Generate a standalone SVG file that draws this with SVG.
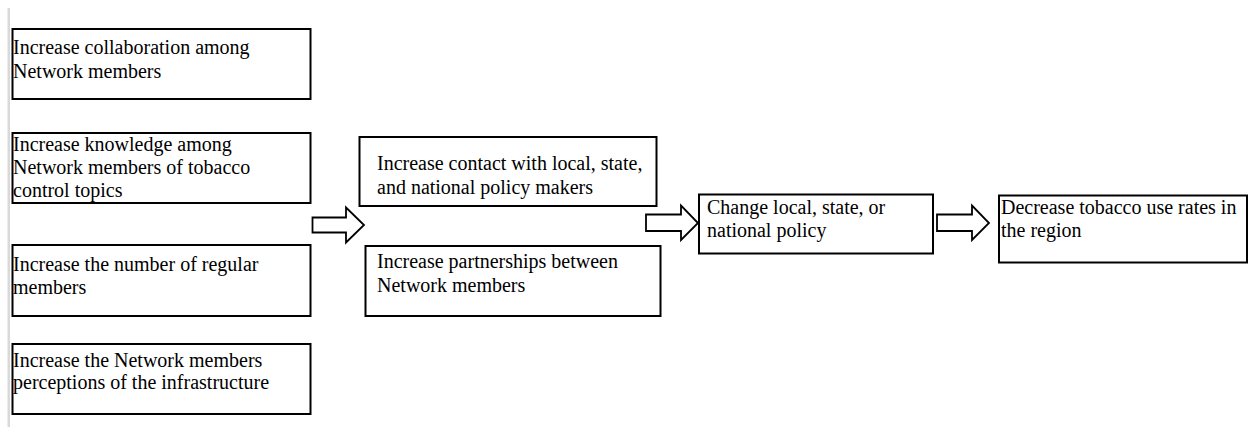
<svg xmlns="http://www.w3.org/2000/svg" width="1250" height="427" viewBox="0 0 1250 427">
<style>
.box{fill:#fff;stroke:#000;stroke-width:2}
.arr{fill:#fff;stroke:#000;stroke-width:1.8;stroke-linejoin:miter}
text{font-family:"Liberation Serif","Times New Roman",serif;font-size:20px;fill:#000}
</style>
<rect x="0" y="0" width="1250" height="427" fill="#fff"/>
<rect x="7.5" y="8" width="2.5" height="419" fill="#d9d9d9"/>
<g id="n1"><rect class="box" x="12.5" y="29" width="298" height="70"/>
<text x="13" y="54">Increase collaboration among</text><text x="13" y="78">Network members</text></g>
<g id="n2"><rect class="box" x="12.5" y="133" width="298" height="70"/>
<text x="13" y="150.5">Increase knowledge among</text><text x="13" y="173.5">Network members of tobacco</text><text x="13" y="196.5">control topics</text></g>
<g id="n3"><rect class="box" x="12.5" y="245" width="298" height="71"/>
<text x="13" y="271">Increase the number of regular</text><text x="13" y="294">members</text></g>
<g id="n4"><rect class="box" x="12.5" y="344" width="298" height="70"/>
<text x="13" y="366.5">Increase the Network members</text><text x="13" y="389">perceptions of the infrastructure</text></g>
<g id="n5"><rect class="box" x="359.5" y="137" width="297" height="69"/>
<text x="377" y="170">Increase contact with local, state,</text><text x="377" y="194">and national policy makers</text></g>
<g id="n6"><rect class="box" x="365.5" y="246" width="295" height="70"/>
<text x="377" y="268">Increase partnerships between</text><text x="377" y="292">Network members</text></g>
<g id="n7"><rect class="box" x="699" y="194.5" width="234" height="59"/>
<text x="707" y="214">Change local, state, or</text><text x="707" y="237">national policy</text></g>
<g id="n8"><rect class="box" x="999" y="195.5" width="248" height="67"/>
<text x="1001" y="214">Decrease tobacco use rates in</text><text x="1001" y="237">the region</text></g>
<g id="connectors">
<path class="arr" d="M312.5,217.5 H346 V207.5 L364,225 L346,242.5 V232.5 H312.5 Z"/>
<path class="arr" d="M646,214.5 H681 V205.5 L698,223 L681,240 V231 H646 Z"/>
<path class="arr" d="M937,214.5 H972 V205.5 L989,223 L972,240 V231 H937 Z"/>
</g>
</svg>
